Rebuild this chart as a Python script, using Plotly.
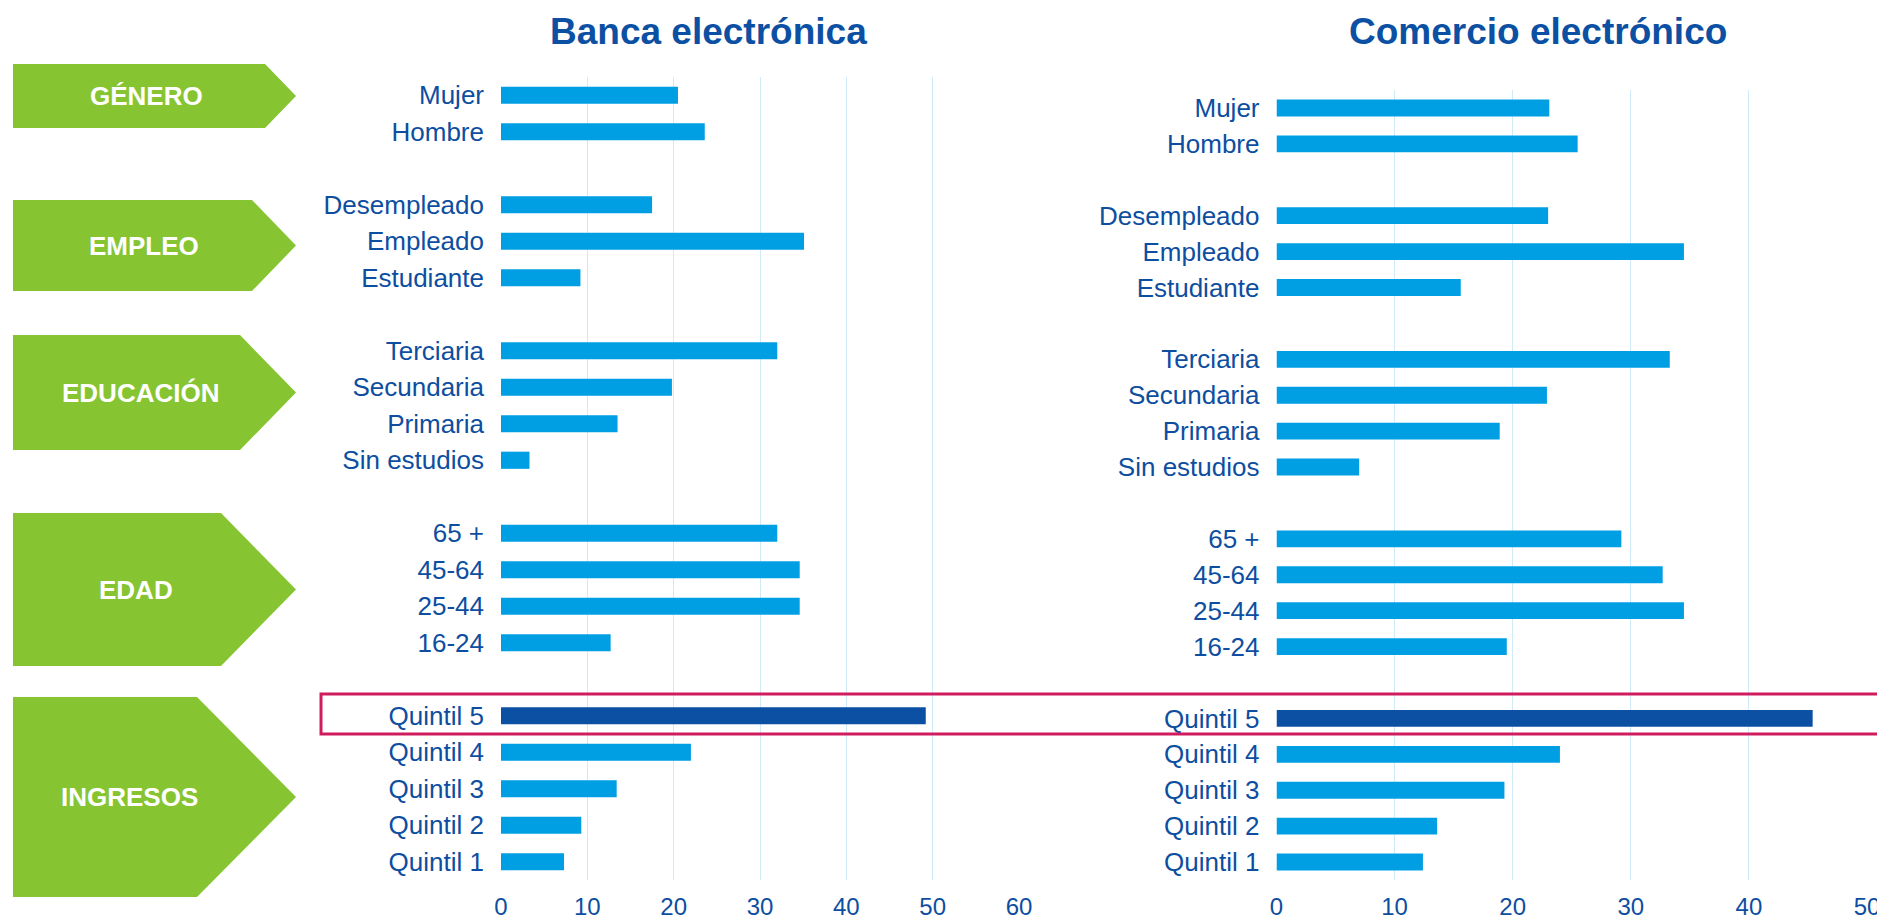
import plotly.graph_objects as go

# grupos y categorias (de arriba a abajo)
grupos = ["GÉNERO", "EMPLEO", "EDUCACIÓN", "EDAD", "INGRESOS"]
cat_genero = ["Mujer", "Hombre"]
cat_empleo = ["Desempleado", "Empleado", "Estudiante"]
cat_educacion = ["Terciaria", "Secundaria", "Primaria", "Sin estudios"]
cat_edad = ["65 +", "45-64", "25-44", "16-24"]
cat_ingresos = ["Quintil 5", "Quintil 4", "Quintil 3", "Quintil 2", "Quintil 1"]

# Banca electronica (%)
banca_genero = [20.5, 23.6]
banca_empleo = [17.5, 35.1, 9.2]
banca_educacion = [32.0, 19.8, 13.5, 3.3]
banca_edad = [32.0, 34.6, 34.6, 12.7]
banca_ingresos = [49.2, 22.0, 13.4, 9.3, 7.3]

# Comercio electronico (%)
comercio_genero = [23.1, 25.5]
comercio_empleo = [23.0, 34.5, 15.6]
comercio_educacion = [33.3, 22.9, 18.9, 7.0]
comercio_edad = [29.2, 32.7, 34.5, 19.5]
comercio_ingresos = [45.4, 24.0, 19.3, 13.6, 12.4]

destacado = "Quintil 5"

W, H = 1877, 919
AZUL = "#009FE3"
AZUL_OSC = "#0B50A3"
TEXTO = "#0D4EA0"
VERDE = "#86C531"
GRID = "#CFEBF8"
FONT = "Liberation Sans, Arial, sans-serif"


def px(x):
    return x / W


def py(y):
    return 1 - y / H


cat_grupos = [cat_genero, cat_empleo, cat_educacion, cat_edad, cat_ingresos]
banca = [banca_genero, banca_empleo, banca_educacion, banca_edad, banca_ingresos]
comercio = [comercio_genero, comercio_empleo, comercio_educacion, comercio_edad, comercio_ingresos]

# orden del eje con un hueco entre grupos
orden = []
for i, g in enumerate(cat_grupos):
    if i > 0:
        orden.append(" " * i)
    orden += g

cats = [c for g in cat_grupos for c in g]
vals_banca = [v for g in banca for v in g]
vals_comercio = [v for g in comercio for v in g]
colores = [AZUL_OSC if c == destacado else AZUL for c in cats]

fig = go.Figure()
fig.add_trace(go.Bar(y=cats, x=vals_banca, orientation="h", marker=dict(color=colores, line_width=0),
                     width=0.47, xaxis="x", yaxis="y", showlegend=False))
fig.add_trace(go.Bar(y=cats, x=vals_comercio, orientation="h", marker=dict(color=colores, line_width=0),
                     width=0.47, xaxis="x2", yaxis="y2", showlegend=False))

xcomun = dict(showgrid=True, gridcolor=GRID, gridwidth=1, zeroline=False, showline=False, automargin=False,
              tickfont=dict(size=24, color=TEXTO), dtick=10, ticklabelstandoff=10,
              ticklabeloverflow="allow", fixedrange=True)
ycomun = dict(type="category", categoryorder="array", categoryarray=orden, automargin=False,
              range=[len(orden) - 0.5, -0.5], showgrid=False, zeroline=False, showline=False,
              tickfont=dict(size=26, color=TEXTO), ticklabelstandoff=16, fixedrange=True)

fig.update_layout(
    width=W, height=H, autosize=False,
    margin=dict(l=0, r=0, t=0, b=0),
    paper_bgcolor="white", plot_bgcolor="white",
    font=dict(family=FONT, color=TEXTO),
    bargap=0.5,
    xaxis=dict(xcomun, domain=[px(501), px(1019)], range=[0, 60], anchor="y"),
    yaxis=dict(ycomun, domain=[py(880), py(77)], anchor="x"),
    xaxis2=dict(xcomun, domain=[px(1276.5), px(1867)], range=[0, 50], anchor="y2"),
    yaxis2=dict(ycomun, domain=[py(880), py(90)], anchor="x2"),
)

# titulos
fig.add_annotation(text="<b>Banca electrónica</b>", x=px(708), y=py(31), xref="paper", yref="paper",
                   showarrow=False, font=dict(size=37, color=AZUL_OSC), xanchor="center", yanchor="middle")
fig.add_annotation(text="<b>Comercio electrónico</b>", x=px(1538), y=py(31), xref="paper", yref="paper",
                   showarrow=False, font=dict(size=37, color=AZUL_OSC), xanchor="center", yanchor="middle")

# flechas verdes: (top, bottom, fin del tramo recto) en px
flechas = [(64, 128, 265), (200, 291, 252), (335, 450, 240), (513, 666, 221), (697, 897, 197)]
x_izq, x_punta = 13, 296
for nombre, (top, bot, recto) in zip(grupos, flechas):
    mid = (top + bot) / 2
    path = "M {} {} L {} {} L {} {} L {} {} L {} {} Z".format(
        px(x_izq), py(top), px(recto), py(top), px(x_punta), py(mid),
        px(recto), py(bot), px(x_izq), py(bot))
    fig.add_shape(type="path", path=path, xref="paper", yref="paper",
                  fillcolor=VERDE, line_width=0, layer="below")
    cx = (x_izq + (recto + x_punta) / 2) / 2
    fig.add_annotation(text="<b>" + nombre + "</b>", x=px(cx), y=py(mid), xref="paper", yref="paper",
                       showarrow=False, font=dict(size=26, color="white"), xanchor="center", yanchor="middle")

# recuadro del quintil 5
fig.add_shape(type="rect", xref="paper", yref="paper", x0=px(321), x1=px(1890), y0=py(734), y1=py(694),
              line=dict(color="#D01C5F", width=3), fillcolor="rgba(0,0,0,0)")

fig.write_html("out.html", config={"displayModeBar": False},
               post_script="document.body.style.margin='0';document.body.style.overflow='hidden';")
